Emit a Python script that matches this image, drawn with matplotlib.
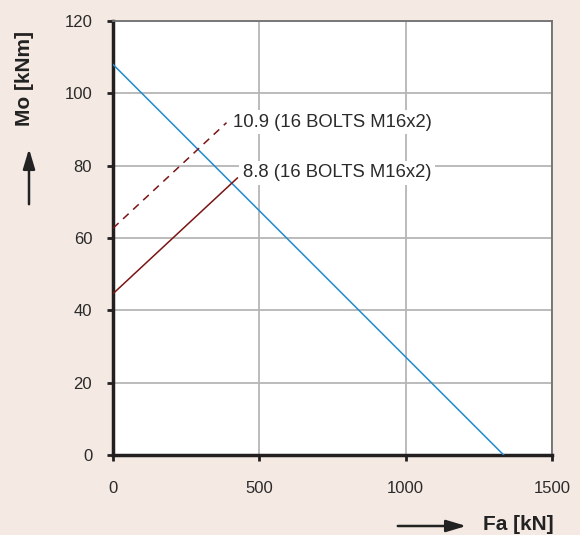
import matplotlib
matplotlib.use("Agg")
import matplotlib.pyplot as plt
from matplotlib.patches import FancyArrowPatch

plt.rcParams['font.family'] = ['Liberation Sans', 'DejaVu Sans']

# Data
blue_x = [0, 1335]
blue_y = [108, 0]
bolt109_x = [0, 388]
bolt109_y = [62.7, 91.9]
bolt88_x = [0, 425]
bolt88_y = [44.6, 76.6]
label109 = "10.9 (16 BOLTS M16x2)"
label88 = "8.8 (16 BOLTS M16x2)"
xticks = [0, 500, 1000, 1500]
yticks = [0, 20, 40, 60, 80, 100, 120]

bg = '#f4e9e3'
fig = plt.figure(figsize=(5.8, 5.35), dpi=100, facecolor=bg)
ax = fig.add_axes([0.1948, 0.1495, 0.9517 - 0.1948, 0.9607 - 0.1495])
ax.set_facecolor('white')

ax.plot(blue_x, blue_y, color='#1f8ad0', lw=1.1, zorder=3)
ax.plot(bolt109_x, bolt109_y, color='#7b1414', lw=1.1, ls=(0, (5, 4)), zorder=3)
ax.plot(bolt88_x, bolt88_y, color='#7b1414', lw=1.1, zorder=3)

box = dict(facecolor='white', edgecolor='none', pad=2.5)
ax.text(410, 92.0, label109, fontsize=13.3, color='#2a2a2a', va='center', ha='left',
        bbox=box, zorder=4)
ax.text(444, 78.0, label88, fontsize=13.3, color='#2a2a2a', va='center', ha='left',
        bbox=box, zorder=4)

ax.set_xlim(0, 1500)
ax.set_ylim(0, 120)
ax.set_xticks(xticks)
ax.set_yticks(yticks)
ax.grid(True, color='#b5b5b5', lw=1.3)
ax.set_axisbelow(True)

for s in ['left', 'bottom']:
    ax.spines[s].set_color('#231f20')
    ax.spines[s].set_linewidth(2.5)
for s in ['top', 'right']:
    ax.spines[s].set_color('#707070')
    ax.spines[s].set_linewidth(1.3)

ax.tick_params(axis='both', direction='out', length=4, width=2, color='#231f20',
               labelsize=12, labelcolor='#2a2a2a')
ax.tick_params(axis='y', pad=11)
ax.tick_params(axis='x', pad=15)

# Axis labels with arrows
fig.text(25 / 580, 1 - 78 / 535, 'Mo [kNm]', rotation=90, fontsize=15,
         fontweight='bold', ha='center', va='center', color='#222222')
fig.patches.append(FancyArrowPatch((29 / 580, 1 - 207 / 535), (29 / 580, 1 - 146 / 535),
                                   transform=fig.transFigure,
                                   arrowstyle='-|>,head_length=12,head_width=3.6',
                                   color='#222222', lw=1.8, mutation_scale=1))
fig.text(518 / 580, 1 - 525 / 535, 'Fa [kN]', fontsize=15, fontweight='bold',
         ha='center', va='center', color='#222222')
fig.patches.append(FancyArrowPatch((395 / 580, 1 - 526 / 535), (469 / 580, 1 - 526 / 535),
                                   transform=fig.transFigure,
                                   arrowstyle='-|>,head_length=12,head_width=3.6',
                                   color='#222222', lw=1.8, mutation_scale=1))

fig.savefig('out.png', dpi=100, facecolor=bg)
